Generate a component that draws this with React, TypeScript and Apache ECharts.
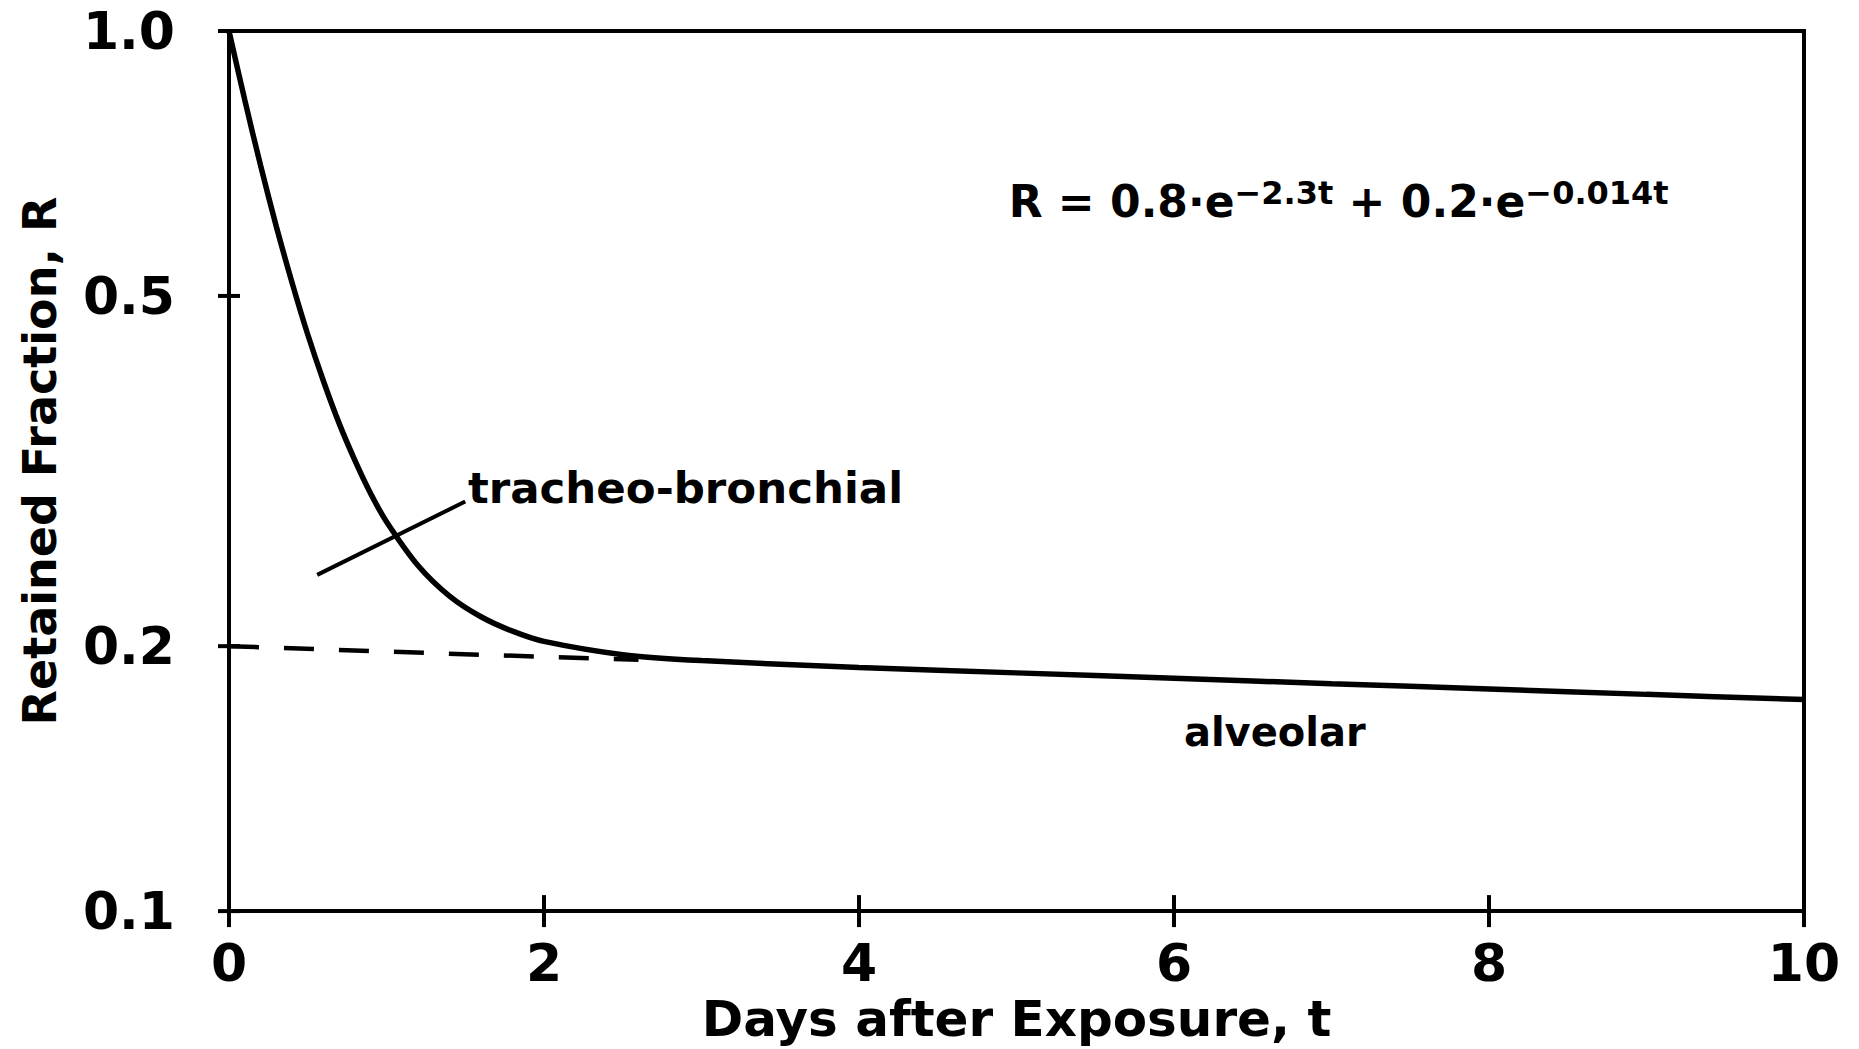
import React, { useEffect, useRef } from "react";
import * as echarts from "echarts";

// Retained fraction (days after exposure -> R)
const days = [0, 0.1, 0.2, 0.3, 0.4, 0.5, 0.6, 0.7, 0.8, 0.9, 1.0, 1.2, 1.4, 1.6, 1.8, 2.0, 2.5, 3, 4, 5, 6, 7, 8, 9, 10];
const retained = [1.0, 0.835, 0.704, 0.6, 0.518, 0.452, 0.4, 0.358, 0.325, 0.298, 0.277, 0.247, 0.228, 0.216, 0.208, 0.2025, 0.1956, 0.1926, 0.1891, 0.1865, 0.1839, 0.1813, 0.1788, 0.1763, 0.1739];

// Alveolar component (dashed)
const alveolarDays = [0, 1, 2, 2.6];
const alveolarValues = [0.2, 0.1972, 0.1945, 0.193];

// Leader line to the "tracheo-bronchial" label
const leaderDays = [0.56, 1.5];
const leaderValues = [0.241, 0.292];

// Axis ticks
const yTickValues = [0.1, 0.2, 0.5, 1.0];
const xTickValues = [0, 2, 4, 6, 8, 10];
const xTickInterval = 2;

// Annotation texts
const labelTrachea = "tracheo-bronchial";
const labelAlveolar = "alveolar";

export default function App() {
  const ref = useRef<HTMLDivElement>(null);

  useEffect(() => {
    const chart = echarts.init(ref.current as HTMLDivElement, null, { renderer: "svg" });
    const font = "'DejaVu Sans', 'Liberation Sans', sans-serif";
    const ink = "#000";

    chart.setOption({
      animation: false,
      backgroundColor: "#ffffff",
      grid: {
        left: 229,
        right: 55,
        top: 31,
        bottom: 134,
        show: true,
        borderColor: ink,
        borderWidth: 4,
        backgroundColor: "transparent",
      },
      xAxis: {
        type: "value",
        min: 0,
        max: 10,
        interval: xTickInterval,
        position: "bottom",
        splitLine: { show: false },
        name: "Days after Exposure, t",
        nameLocation: "middle",
        nameGap: 77,
        nameTextStyle: { fontFamily: font, fontWeight: "bold", fontSize: 50, color: ink },
        axisLine: { show: true, lineStyle: { color: ink, width: 4 } },
        axisTick: { show: false },
        axisLabel: { margin: 26, fontFamily: font, fontWeight: "bold", fontSize: 52, color: ink },
      },
      yAxis: {
        type: "log",
        logBase: 10,
        min: 0.1,
        max: 1,
        position: "left",
        splitLine: { show: false },
        minorTick: { show: false },
        name: "Retained Fraction, R",
        nameLocation: "middle",
        nameGap: 166,
        nameTextStyle: { fontFamily: font, fontWeight: "bold", fontSize: 46, color: ink, padding: [0, 0, 0, 20] },
        axisLine: { show: true, lineStyle: { color: ink, width: 4 } },
        axisTick: { show: false },
        axisLabel: {
          margin: 54,
          customValues: yTickValues,
          formatter: (v: number) => Number(v).toFixed(1),
          fontFamily: font,
          fontWeight: "bold",
          fontSize: 52,
          color: ink,
        },
      },
      series: [
        {
          name: "R",
          type: "line",
          data: days.map((d, i) => [d, retained[i]]),
          showSymbol: false,
          smooth: 0.3,
          lineStyle: { color: ink, width: 5.5 },
          z: 5,
        },
        {
          name: "alveolar component",
          type: "line",
          data: alveolarDays.map((d, i) => [d, alveolarValues[i]]),
          showSymbol: false,
          lineStyle: { color: ink, width: 4.5, type: [30, 25] },
          z: 4,
        },
        {
          name: "leader",
          type: "line",
          data: leaderDays.map((d, i) => [d, leaderValues[i]]),
          showSymbol: false,
          lineStyle: { color: ink, width: 4 },
          z: 4,
        },
        {
          name: "y ticks",
          type: "scatter",
          symbol: "rect",
          symbolSize: [22, 4],
          clip: false,
          silent: true,
          itemStyle: { color: ink, opacity: 1 },
          data: yTickValues.map((v) => [0, v]),
          z: 6,
        },
        {
          name: "x ticks",
          type: "scatter",
          symbol: "rect",
          symbolSize: [4, 32],
          clip: false,
          silent: true,
          itemStyle: { color: ink, opacity: 1 },
          data: xTickValues.map((v) => [v, 0.1]),
          z: 6,
        },
        {
          name: "annotations",
          type: "scatter",
          symbolSize: 0,
          clip: false,
          itemStyle: { color: "transparent", opacity: 1 },
          silent: true,
          data: [
            {
              value: [1.517, 0.3026],
              label: {
                show: true,
                position: "right",
                distance: 0,
                formatter: labelTrachea,
                fontFamily: font,
                fontWeight: "bold",
                fontSize: 43.5,
                color: ink,
              },
            },
            {
              value: [6.64, 0.1598],
              label: {
                show: true,
                position: "inside",
                formatter: labelAlveolar,
                fontFamily: font,
                fontWeight: "bold",
                fontSize: 40,
                color: ink,
              },
            },
            {
              value: [4.95, 0.6424],
              label: {
                show: true,
                position: "right",
                distance: 0,
                formatter: "{m|R = 0.8·e}{s|−2.3t}{m| + 0.2·e}{s|−0.014t}",
                rich: {
                  m: { fontFamily: font, fontWeight: "bold", fontSize: 44, lineHeight: 46, color: ink, verticalAlign: "bottom" },
                  s: { fontFamily: font, fontWeight: "bold", fontSize: 32, lineHeight: 32, color: ink, verticalAlign: "top", padding: [0, 0, 38, 0] },
                },
              },
            },
          ],
          z: 7,
        },
      ],
    });

    return () => chart.dispose();
  }, []);

  return (
    <div
      ref={ref}
      style={{ position: "absolute", left: 0, top: 0, width: 1859, height: 1049, background: "#fff" }}
    />
  );
}
